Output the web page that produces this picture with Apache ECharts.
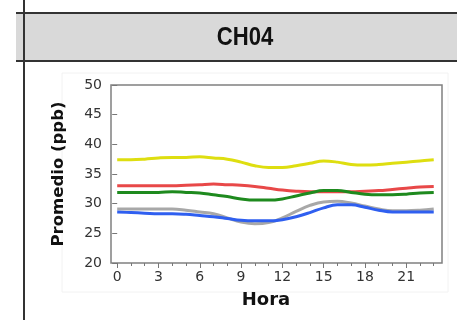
<!DOCTYPE html>
<html>
<head>
    <meta charset="utf-8"/>
    <title>CH04</title>
    <script src="https://cdn.jsdelivr.net/npm/echarts@6.0.0/dist/echarts.min.js"></script>
    <style>
        html, body { margin: 0; padding: 0; background: #fff; }
    </style>
</head>
<body>
<div id="chart" style="width: 457px;height:320px;"></div>
<script type="text/javascript">
    // horas 0..23
    var horas = [];
    for (var h = 0; h < 24; h++) horas.push(h);

    var amarillo = [37.4, 37.4, 37.5, 37.7, 37.8, 37.8, 37.9, 37.7, 37.5, 37.0, 36.4, 36.1, 36.1, 36.4, 36.8, 37.2, 37.0, 36.6, 36.5, 36.6, 36.8, 37.0, 37.2, 37.4];
    var rojo = [33.0, 33.0, 33.0, 33.0, 33.0, 33.1, 33.2, 33.3, 33.2, 33.1, 32.9, 32.6, 32.3, 32.1, 32.0, 32.0, 32.0, 32.0, 32.1, 32.2, 32.4, 32.6, 32.8, 32.9];
    var verde = [31.9, 31.9, 31.9, 31.9, 32.0, 31.9, 31.8, 31.5, 31.2, 30.8, 30.6, 30.6, 30.8, 31.3, 31.8, 32.2, 32.2, 31.9, 31.6, 31.5, 31.5, 31.6, 31.8, 31.9];
    var gris = [29.1, 29.1, 29.1, 29.1, 29.1, 28.9, 28.6, 28.3, 27.6, 26.9, 26.6, 26.8, 27.6, 28.7, 29.7, 30.3, 30.4, 30.1, 29.6, 29.1, 28.8, 28.8, 28.9, 29.1];
    var azul = [28.6, 28.5, 28.4, 28.3, 28.3, 28.2, 28.0, 27.8, 27.5, 27.2, 27.1, 27.1, 27.3, 27.8, 28.5, 29.3, 29.8, 29.8, 29.4, 28.9, 28.6, 28.6, 28.6, 28.6];

    var etiquetasX = [0, 3, 6, 9, 12, 15, 18, 21];

    function serie(nombre, datos, color) {
        return {
            name: nombre,
            type: 'line',
            xAxisIndex: 1,
            smooth: 0.4,
            showSymbol: false,
            data: horas.map(function (h, i) { return [h, datos[i]]; }),
            lineStyle: { color: color, width: 3 },
            itemStyle: { color: color }
        };
    }

    var xBase = {
        type: 'value',
        min: -0.45,
        max: 23.6,
        position: 'bottom',
        splitLine: { show: false },
        axisLine: { show: false }
    };

    var option = {
        animation: false,
        textStyle: { fontFamily: 'DejaVu Sans' },
        graphic: [
            { type: 'rect', shape: { x: 16, y: 13, width: 441, height: 48 }, style: { fill: '#d9d9d9' } },
            { type: 'line', shape: { x1: 16, y1: 13, x2: 457, y2: 13 }, style: { stroke: '#333', lineWidth: 2 } },
            { type: 'line', shape: { x1: 16, y1: 61, x2: 457, y2: 61 }, style: { stroke: '#333', lineWidth: 2 } },
            { type: 'line', shape: { x1: 24, y1: 0, x2: 24, y2: 320 }, style: { stroke: '#333', lineWidth: 2 } },
            { type: 'rect', shape: { x: 62, y: 73, width: 386, height: 219 }, style: { fill: 'none', stroke: '#f2f2f2', lineWidth: 1 } },
            {
                type: 'text', x: 245, y: 38, scaleX: 0.85,
                style: { text: 'CH04', fill: '#111', font: 'bold 26px Liberation Sans', align: 'center', verticalAlign: 'middle' }
            },
            {
                type: 'text', x: 266, y: 300,
                style: { text: 'Hora', fill: '#111', font: 'bold 18px DejaVu Sans', align: 'center', verticalAlign: 'middle' }
            },
            {
                type: 'text', x: 59, y: 174, rotation: Math.PI / 2,
                style: { text: 'Promedio (ppb)', fill: '#111', font: 'bold 16.5px DejaVu Sans', align: 'center', verticalAlign: 'middle' }
            }
        ],
        grid: {
            left: 111, top: 85, right: 15, bottom: 57,
            show: true, borderColor: '#808080', borderWidth: 1.5, backgroundColor: '#fff'
        },
        xAxis: [
            Object.assign({}, xBase, {
                axisTick: { show: true, customValues: horas, length: 3, lineStyle: { color: '#777' } },
                axisLabel: { show: false }
            }),
            Object.assign({}, xBase, {
                axisTick: { show: true, customValues: etiquetasX, length: 5, lineStyle: { color: '#777' } },
                axisLabel: { customValues: etiquetasX, fontSize: 14, color: '#333', margin: 7 }
            })
        ],
        yAxis: {
            type: 'value',
            min: 20,
            max: 50,
            interval: 5,
            splitLine: { show: false },
            axisLine: { show: false },
            axisTick: { show: true, length: 5, lineStyle: { color: '#777' } },
            axisLabel: { fontSize: 14, color: '#333', margin: 9 }
        },
        series: [
            serie('amarillo', amarillo, '#dede10'),
            serie('rojo', rojo, '#e84848'),
            serie('verde', verde, '#1e8a1e'),
            serie('gris', gris, '#a8a8a8'),
            serie('azul', azul, '#2f5ff0')
        ]
    };

    var chart = echarts.init(document.getElementById('chart'));
    chart.setOption(option);
</script>
</body>
</html>
